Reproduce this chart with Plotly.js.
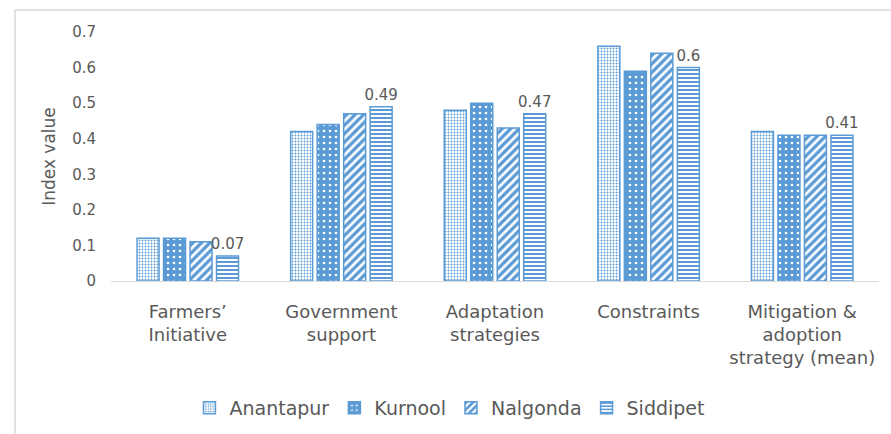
<!DOCTYPE html>
<html>
<head>
<meta charset="utf-8">
<script src="https://cdn.plot.ly/plotly-3.0.1.min.js"></script>
<style>html,body{margin:0;padding:0;background:#fff;}#chart{width:891px;height:434px;}</style>
</head>
<body>
<div id="chart"></div>
<script>
const categories = ["Farmers’<br>Initiative", "Government<br>support", "Adaptation<br>strategies", "Constraints", "Mitigation &<br>adoption<br>strategy (mean)"];
const seriesNames = ["Anantapur", "Kurnool", "Nalgonda", "Siddipet"];
const anantapur = [0.12, 0.42, 0.48, 0.66, 0.42];
const kurnool   = [0.12, 0.44, 0.50, 0.59, 0.41];
const nalgonda  = [0.11, 0.47, 0.43, 0.64, 0.41];
const siddipet  = [0.07, 0.49, 0.47, 0.60, 0.41];
const yTicks = [0, 0.1, 0.2, 0.3, 0.4, 0.5, 0.6, 0.7];
const yTickLabels = ["0", "0.1", "0.2", "0.3", "0.4", "0.5", "0.6", "0.7"];

const blue = "#5B9BD5";
const textGray = "#595959";
const FONT = "DejaVu Sans, sans-serif";

const patterns = [
  {shape: ".", bgcolor: "#ffffff", fgcolor: blue, size: 3, solidity: 0.3},
  {shape: ".", bgcolor: blue, fgcolor: "#ffffff", size: 6, solidity: 0.15},
  {shape: "/", bgcolor: blue, fgcolor: "#ffffff", size: 6, solidity: 0.45},
  {shape: "-", bgcolor: "#ffffff", fgcolor: blue, size: 4, solidity: 0.5}
];
const allValues = [anantapur, kurnool, nalgonda, siddipet];

const traces = allValues.map((vals, i) => {
  const t = {
    type: "bar",
    name: seriesNames[i],
    x: categories,
    y: vals,
    marker: {
      color: patterns[i].bgcolor,
      line: {color: blue, width: 1.5},
      pattern: Object.assign({fillmode: "replace"}, patterns[i])
    },
    hoverinfo: "skip"
  };
  if (i === 3) {
    t.text = vals.map(v => String(v));
    t.textposition = "outside";
    t.constraintext = "none";
    t.textfont = {family: FONT, size: 15, color: textGray};
    t.cliponaxis = false;
  }
  return t;
});

const layout = {
  width: 891, height: 434,
  margin: {l: 111, r: 12, t: 32, b: 153, autoexpand: false},
  paper_bgcolor: "#ffffff",
  plot_bgcolor: "#ffffff",
  font: {family: FONT, color: textGray, size: 15},
  barmode: "group",
  bargap: 0.31,
  bargroupgap: 0.17,
  showlegend: true,
  legend: {
    orientation: "h",
    xref: "container", yref: "container",
    x: 0.505, xanchor: "center",
    y: 0.06, yanchor: "middle",
    font: {family: FONT, size: 19, color: textGray},
    itemwidth: 30,
    traceorder: "normal"
  },
  xaxis: {
    type: "category",
    automargin: false,
    showline: true, linecolor: "#D9D9D9", linewidth: 1,
    ticks: "", showgrid: false,
    ticklabelstandoff: 14,
    tickfont: {family: FONT, size: 18, color: textGray},
    fixedrange: true
  },
  yaxis: {
    range: [0, 0.7],
    automargin: false,
    tickvals: yTicks, ticktext: yTickLabels,
    showgrid: false, zeroline: false, showline: false,
    ticks: "", ticklabelstandoff: 14,
    tickfont: {family: FONT, size: 15, color: textGray},
    title: {text: "Index value", font: {family: FONT, size: 17, color: textGray}, standoff: 12},
    fixedrange: true
  },
  shapes: [{
    type: "rect", xref: "paper", yref: "paper",
    x0: -0.125, x1: 1.2, y0: -1.0, y1: 1.088,
    line: {color: "#D9D9D9", width: 1.5}, fillcolor: "rgba(0,0,0,0)", layer: "below"
  }]
};

Plotly.newPlot("chart", traces, layout, {staticPlot: true, displayModeBar: false});
</script>
</body>
</html>
